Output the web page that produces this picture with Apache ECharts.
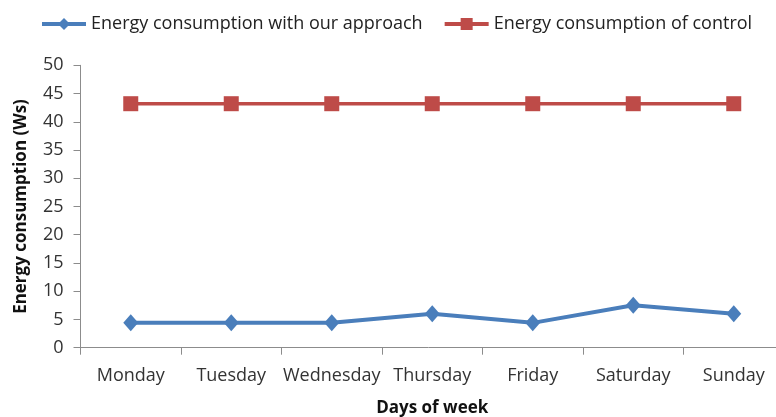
<!DOCTYPE html>
<html><head><meta charset="utf-8">
<script src="https://cdn.jsdelivr.net/npm/echarts@6/dist/echarts.min.js"></script>
<style>html,body{margin:0;padding:0;background:#fff}#c{width:776px;height:417px}</style>
</head><body><div id="c"></div>
<script>
const days = ['Monday','Tuesday','Wednesday','Thursday','Friday','Saturday','Sunday'];
const ourApproach = [4.4, 4.4, 4.4, 6.0, 4.4, 7.5, 6.0];
const control = [43.2, 43.2, 43.2, 43.2, 43.2, 43.2, 43.2];
const seriesNames = ['Energy consumption with our approach','Energy consumption of control'];
const FONT = 'Open Sans';
const chart = echarts.init(document.getElementById('c'), null, {renderer:'canvas'});
chart.setOption({
  animation:false,
  textStyle:{fontFamily:FONT},
  legend:{
    top:10, left:35, itemWidth:44, itemHeight:15, itemGap:20,
    textStyle:{fontFamily:FONT, fontSize:18, color:'#222'},
    data:[
      {name:seriesNames[0], lineStyle:{width:4}},
      {name:seriesNames[1], lineStyle:{width:4}}
    ]
  },
  grid:{left:80.5, width:703.5, top:65.3, bottom:69.3, containLabel:false, outerBoundsMode:'none'},
  xAxis:{
    type:'category', data:days, boundaryGap:true,
    name:'Days of week', nameLocation:'middle', nameGap:52,
    nameTextStyle:{fontFamily:FONT, fontSize:17, fontWeight:'bold', color:'#111'},
    axisLine:{lineStyle:{color:'#8c8c8c', width:1}},
    axisTick:{show:true, length:7, lineStyle:{color:'#8c8c8c'}},
    axisLabel:{fontFamily:FONT, fontSize:18, color:'#333', margin:19, interval:0},
    splitLine:{show:false}
  },
  yAxis:{
    type:'value', min:0, max:50, interval:5,
    name:'Energy consumption (Ws)', nameLocation:'middle', nameGap:51,
    nameTextStyle:{fontFamily:FONT, fontSize:17, fontWeight:'bold', color:'#111'},
    axisLine:{show:true, lineStyle:{color:'#8c8c8c', width:1}},
    axisTick:{show:true, length:7, lineStyle:{color:'#8c8c8c'}},
    axisLabel:{fontFamily:FONT, fontSize:18, color:'#333', margin:17},
    splitLine:{show:false}
  },
  series:[
    {name:seriesNames[0], type:'line', data:ourApproach, symbol:'diamond', symbolSize:[15,17],
     lineStyle:{color:'#4A7EBB', width:4}, itemStyle:{color:'#4A7EBB'}},
    {name:seriesNames[1], type:'line', data:control, symbol:'rect', symbolSize:15,
     lineStyle:{color:'#BE4B48', width:3.5}, itemStyle:{color:'#BE4B48'}}
  ]
});
</script></body></html>
